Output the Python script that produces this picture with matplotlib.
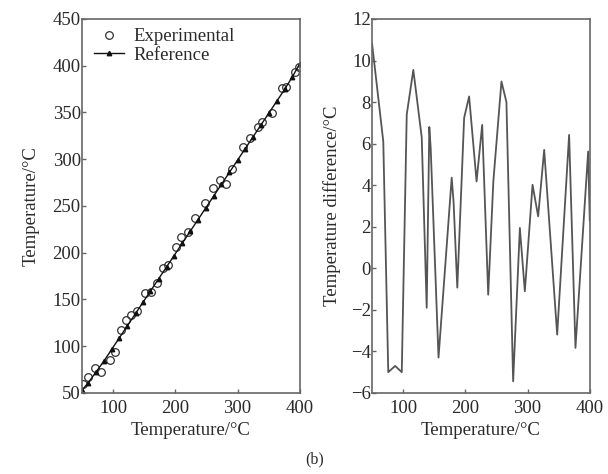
import matplotlib
matplotlib.use("Agg")
import matplotlib.pyplot as plt

plt.rcParams['font.family'] = ['Liberation Serif', 'DejaVu Serif']

# left panel: experimental points vs reference line
exp_temp = [52, 59.6, 70.4, 81, 94.5, 102.5, 113, 121, 129, 139, 150.5, 161, 170, 180,
            188, 201.4, 209.5, 220, 231, 247, 261, 271.6, 282, 290.4, 309, 320, 333,
            338.6, 354.6, 370.7, 378.7, 392, 398]
exp_val = [60, 67.5, 76.4, 72.8, 85.3, 94, 117.4, 128, 133.4, 138, 156.6, 158, 168, 183.3,
           187, 206.5, 217, 222.5, 236.8, 252.9, 269, 277.8, 274, 290, 313.4, 322.4, 334.8,
           340, 349, 375.9, 377.6, 393.6, 399]

ref_temp = [50, 60, 72, 85, 98, 110, 123, 136, 148, 160, 173, 186, 198, 211, 224, 236,
            249, 262, 274, 287, 300, 312, 325, 338, 350, 363, 376, 388, 400]
ref_val = [53, 61, 72, 84, 97, 109, 122, 135, 147, 159, 172, 185, 197, 210, 223, 235,
           248, 261, 273, 286, 299, 311, 324, 337, 349, 362, 375, 388, 402]

# right panel: temperature difference
diff_temp = [50, 68, 76, 87, 97.7, 105.7, 116.3, 129.8, 137.8, 142, 144.2, 156.8, 178,
             181, 187, 198, 206, 218, 227, 236.7, 245, 258, 266, 276.8, 287.6, 295.6,
             308, 317, 326.7, 347.6, 366.8, 377, 397.4, 400]
diff_val = [10.8, 6.1, -5.0, -4.7, -5.0, 7.4, 9.55, 6.3, -1.9, 6.8, 5.8, -4.3, 4.36,
            3.2, -0.93, 7.24, 8.27, 4.18, 6.9, -1.27, 4.2, 8.99, 8.0, -5.44, 1.94, -1.11,
            4.02, 2.5, 5.7, -3.19, 6.42, -3.83, 5.62, 2.3]

FS = 13.5
TXT = '#2a2a2a'

fig = plt.figure(figsize=(6.08, 4.74), dpi=100)
ax1 = fig.add_axes([0.135, 0.171, 0.358, 0.789])
ax2 = fig.add_axes([0.612, 0.171, 0.358, 0.789])

spine_col = '#666666'
for ax in (ax1, ax2):
    for s in ax.spines.values():
        s.set_color(spine_col)
        s.set_linewidth(1.2)
    ax.tick_params(direction='in', length=3, width=1, color=spine_col,
                   labelsize=FS, pad=1, labelcolor=TXT)
    ax.tick_params(axis='x', pad=5)

ax1.plot(exp_temp, exp_val, 'o', mfc='none', mec='#333333', ms=5.5, mew=0.9,
         label='Experimental')
ax1.plot(ref_temp, ref_val, '-^', color='#111111', lw=1.0, ms=3.2,
         label='Reference')
ax1.set_xlim(50, 400)
ax1.set_ylim(50, 450)
ax1.set_xticks([100, 200, 300, 400])
ax1.set_yticks(range(50, 451, 50))
ax1.set_xlabel('Temperature/°C', fontsize=FS, color=TXT, labelpad=4)
ax1.set_ylabel('Temperature/°C', fontsize=FS, color=TXT, labelpad=9)
leg = ax1.legend(loc='upper left', frameon=False, fontsize=FS, handlelength=1.6,
                 borderaxespad=0.1, handletextpad=0.5, labelspacing=0.05,
                 bbox_to_anchor=(0.01, 1.0))
for t in leg.get_texts():
    t.set_color(TXT)

ax2.plot(diff_temp, diff_val, '-', color='#555555', lw=1.3)
ax2.set_xlim(50, 400)
ax2.set_ylim(-6, 12)
ax2.set_xticks([100, 200, 300, 400])
ax2.set_yticks(range(-6, 13, 2))
ax2.set_xlabel('Temperature/°C', fontsize=FS, color=TXT, labelpad=4)
ax2.set_ylabel('Temperature difference/°C', fontsize=FS, color=TXT, labelpad=7)

fig.text(0.518, 0.03, '(b)', ha='center', va='center', fontsize=11.5, color=TXT)

fig.savefig('out.png', dpi=100)
